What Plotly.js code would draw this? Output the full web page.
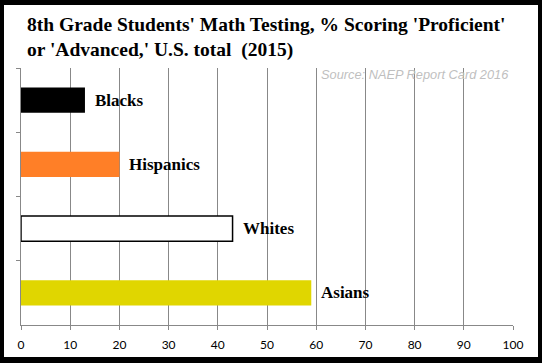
<!DOCTYPE html>
<html>
<head>
<meta charset="utf-8">
<script src="https://cdn.plot.ly/plotly-3.0.1.min.js"></script>
<style>
html, body { margin: 0; padding: 0; background: #000; width: 542px; height: 363px; overflow: hidden; }
#chart { position: absolute; left: 4px; top: 5px; width: 534px; height: 352px; background: #fff; }
</style>
</head>
<body>
<div id="chart"></div>
<script>
const categories = ['Blacks', 'Hispanics', 'Whites', 'Asians'];
const values = [13, 20, 43, 59];
const barColors = ['#000000', '#FF7F27', '#FFFFFF', '#E0D600'];
const barLineColors = ['#000000', '#FF7F27', '#000000', '#E0D600'];
const barLineWidths = [0, 0, 1.5, 0];
const xTicks = [0, 10, 20, 30, 40, 50, 60, 70, 80, 90, 100];
const titleText = "8th Grade Students' Math Testing, % Scoring 'Proficient'<br>or 'Advanced,' U.S. total\u00a0 (2015)";
const sourceText = 'Source: NAEP Report Card 2016';

const trace = {
  type: 'bar',
  orientation: 'h',
  x: values,
  y: categories,
  marker: { color: barColors, line: { color: barLineColors, width: barLineWidths } },
  hoverinfo: 'none'
};

const labelAnnotations = categories.map((c, i) => ({
  x: values[i], y: c, xref: 'x', yref: 'y',
  text: c, showarrow: false, xanchor: 'left', yanchor: 'middle', xshift: 8,
  font: { family: 'Liberation Serif', size: 17, color: '#000', weight: 'bold' }
}));

const layout = {
  width: 534, height: 352,
  margin: { l: 17, r: 25, t: 63, b: 32 },
  paper_bgcolor: '#fff', plot_bgcolor: '#fff',
  showlegend: false,
  bargap: 0.61,
  title: {
    text: titleText,
    xref: 'container', x: 23 / 534, xanchor: 'left',
    yref: 'container', y: 0.926, yanchor: 'top',
    font: { family: 'Liberation Serif', size: 19.5, color: '#000', weight: 'bold' }
  },
  xaxis: {
    range: [0, 100], tickvals: xTicks, ticktext: xTicks.map(String),
    showgrid: true, gridcolor: '#888', gridwidth: 1,
    showline: true, linecolor: '#888', linewidth: 1,
    ticks: 'outside', ticklen: 4, tickcolor: '#888',
    zeroline: false, ticklabelstandoff: 5,
    tickfont: { family: 'Lato', size: 12, color: '#000' },
    fixedrange: true
  },
  yaxis: {
    type: 'category', autorange: 'reversed',
    showticklabels: false, tickson: 'boundaries',
    ticks: 'outside', ticklen: 4, tickcolor: '#888',
    showline: true, linecolor: '#888', linewidth: 1,
    showgrid: false, zeroline: false, fixedrange: true
  },
  annotations: labelAnnotations.concat([{
    xref: 'paper', yref: 'paper', x: 0.995, y: 1, xanchor: 'right', yanchor: 'top', yshift: 3,
    text: sourceText, showarrow: false,
    font: { family: 'Liberation Sans', size: 12.8, color: '#BFBFBF', style: 'italic' }
  }])
};

Plotly.newPlot('chart', [trace], layout, { displayModeBar: false, staticPlot: true });
</script>
</body>
</html>
